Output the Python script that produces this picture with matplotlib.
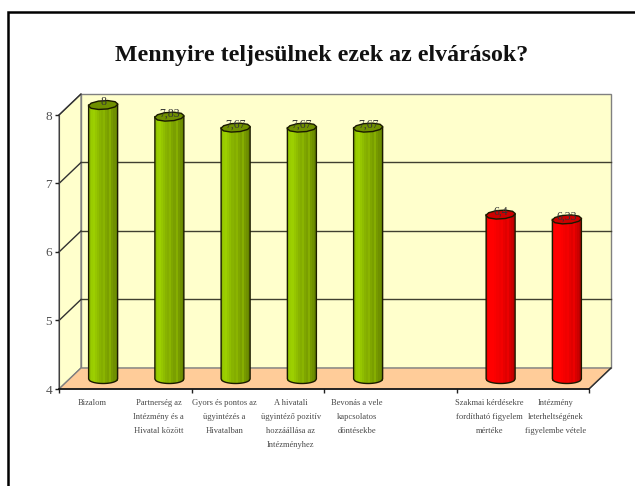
import numpy as np
import matplotlib
matplotlib.use("Agg")
import matplotlib.pyplot as plt
from matplotlib.lines import Line2D
from matplotlib.patches import Polygon
from matplotlib.transforms import Affine2D

title = "Mennyire teljesülnek ezek az elvárások?"
categories = ["Bizalom",
              "Partnerség az\nIntézmény és a\nHivatal között",
              "Gyors és pontos az\nügyintézés a\nHivatalban",
              "A hivatali\nügyintéző pozitív\nhozzáállása az\nIntézményhez",
              "Bevonás a vele\nkapcsolatos\ndöntésekbe",
              "",
              "Szakmai kérdésekre\nfordítható figyelem\nmértéke",
              "Intézmény\nleterheltségének\nfigyelembe vétele"]
values = [8, 7.83, 7.67, 7.67, 7.67, np.nan, 6.4, 6.33]
value_labels = ["8", "7,83", "7,67", "7,67", "7,67", "", "6,4", "6,33"]
yticks = [4, 5, 6, 7, 8]

W, H = 635, 486
SERIF = "Liberation Serif"
GREEN = ["#8fbf00", "#99cc00", "#9ccf00", "#96c600", "#8fbd00", "#88b300", "#84ad00", "#8ab400",
         "#7fa600", "#7a9f00", "#86ae00", "#769900", "#6f9000", "#668500"]
RED = ["#f00000", "#ff0000", "#ff0000", "#ff0000", "#fb0000", "#f50000", "#f00000", "#f40000",
       "#e80000", "#e00000", "#ec0000", "#d80000", "#cc0000", "#bb0000"]

fig = plt.figure(figsize=(W / 100, H / 100), dpi=100)
ax = fig.add_axes([59 / W, (H - 389) / H, 530 / W, 274 / H])
ax.set_xlim(0, 8)
ax.set_ylim(4, 8)
ax.patch.set_visible(False)

# pixel offsets for the fake 3d depth
back = ax.transData + Affine2D().translate(22, 21)
mid = ax.transData + Affine2D().translate(11, 10)
px_x = 8 / 530
px_y = 4 / 274

# walls and floor
edge = "#808080"
ax.add_patch(Polygon([(0, 4), (8, 4), (8, 8), (0, 8)], closed=True, fc="#ffffcc", ec=edge, lw=1,
                     transform=back, zorder=0, clip_on=False))
ax.add_patch(Polygon([(0, 4), (0, 8), (22 * px_x, 8 + 21 * px_y), (22 * px_x, 4 + 21 * px_y)], closed=True,
                     fc="#ffffcc", ec=edge, lw=1, zorder=0, clip_on=False))
ax.add_patch(Polygon([(0, 4), (22 * px_x, 4 + 21 * px_y), (8 + 22 * px_x, 4 + 21 * px_y), (8, 4)], closed=True,
                     fc="#ffcc99", ec=edge, lw=1, zorder=0.5, clip_on=False))

for v in yticks[1:-1]:
    ax.plot([0, 8], [v, v], color="#404030", lw=1, transform=back, zorder=1, clip_on=False)
for v in yticks[1:]:
    ax.plot([0, 22 * px_x], [v, v + 21 * px_y], color="#303030", lw=1, zorder=1, clip_on=False)
ax.plot([8, 8 + 22 * px_x], [4, 4 + 21 * px_y], color="#303030", lw=1, zorder=1, clip_on=False)

# cylinders
half_w = 14.5 * px_x
ry = 4.5 * px_y
edges = np.linspace(-half_w, half_w, len(GREEN) + 1)
strip_mid = (edges[:-1] + edges[1:]) / 2
strip_w = edges[1] - edges[0]
arc = np.sqrt(1 - (strip_mid / half_w) ** 2)
tt = np.linspace(0, 2 * np.pi, 11)[:-1] + 0.2
arc_x = np.linspace(-half_w, half_w, 30)

for i, v in enumerate(values):
    if np.isnan(v):
        continue
    x = i + 0.5
    red = v < 7
    colors = RED if red else GREEN
    for off, a, c in zip(strip_mid, arc, colors):
        b = 4 - ry * a
        ax.bar(x + off, v - b, bottom=b, width=strip_w * 1.05, color=c, lw=0, transform=mid, zorder=2,
               clip_on=False)
    # outline
    arc_y = 4 - ry * np.sqrt(1 - (arc_x / half_w) ** 2)
    ax.plot(np.r_[x - half_w, x + arc_x, x + half_w], np.r_[v, arc_y, v], color="#1a1a00", lw=1,
            transform=mid, zorder=3, clip_on=False)
    # top cap, skewed a bit like the projected circle
    cap_x = x + half_w * np.cos(tt) + 0.2 * half_w * np.sin(tt)
    cap_y = v + ry * np.sin(tt)
    ax.add_patch(Polygon(np.c_[cap_x, cap_y], closed=True, fc="#cc0000" if red else "#6f8f00",
                         ec="#1a1a00", lw=1, transform=mid, zorder=4, clip_on=False))
    ax.text(x, v + 3 * px_y, value_labels[i], ha="center", va="center", fontsize=8.5, family=SERIF,
            color="#333333", transform=mid, zorder=5)

# axes
for s in ["top", "right"]:
    ax.spines[s].set_visible(False)
ax.spines["left"].set_color("#404040")
ax.spines["bottom"].set_color("#101010")
ax.spines["bottom"].set_linewidth(1.2)
ax.set_yticks(yticks)
ax.set_yticklabels([str(t) for t in yticks], fontsize=9.5, family=SERIF, color="#505050")
ax.set_xticks([0, 2, 4, 6, 8])
ax.set_xticklabels([])
ax.tick_params(axis="y", length=3, width=1, color="#202020", pad=2)
ax.tick_params(axis="x", length=3, width=1, color="#202020")

for i, lab in enumerate(categories):
    ax.annotate(lab, (i + 0.5, 4), xytext=(0, -7.5), textcoords="offset points", ha="center", va="top",
                fontsize=6.1, family=SERIF, color="#484848", linespacing=1.95, annotation_clip=False)

fig.text(322 / W, (H - 56) / H, title, ha="center", va="center", fontsize=17.2, fontweight="bold",
         family=SERIF, color="#111111")
fig.add_artist(Line2D([8 / W, 8 / W, 1], [0, (H - 12) / H, (H - 12) / H], color="black", lw=1.8,
                      solid_joinstyle="miter"))

fig.savefig("out.png", dpi=100)
